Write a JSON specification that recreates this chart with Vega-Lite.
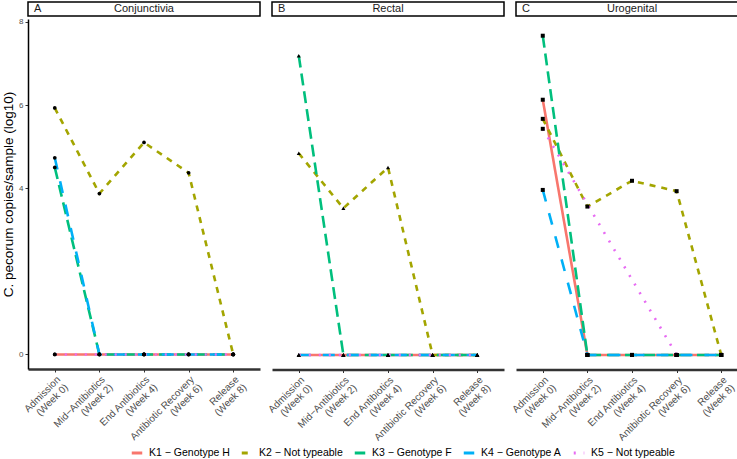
{
  "$schema": "https://vega.github.io/schema/vega-lite/v6.json",
  "background": "white",
  "padding": {"left": 1, "top": 1, "right": 0, "bottom": 0},
  "datasets": {
    "strips": [
      {"panel": "Conjunctivia", "letter": "A"},
      {"panel": "Rectal", "letter": "B"},
      {"panel": "Urogenital", "letter": "C"}
    ],
    "vals": [
      {"panel": "Conjunctivia", "genotype": "K1 − Genotype H", "stage": "Admission\n(Week 0)", "value": 0},
      {"panel": "Conjunctivia", "genotype": "K1 − Genotype H", "stage": "Mid−Antibiotics\n(Week 2)", "value": 0},
      {"panel": "Conjunctivia", "genotype": "K1 − Genotype H", "stage": "End Antibiotics\n(Week 4)", "value": 0},
      {"panel": "Conjunctivia", "genotype": "K1 − Genotype H", "stage": "Antibiotic Recovery\n(Week 6)", "value": 0},
      {"panel": "Conjunctivia", "genotype": "K1 − Genotype H", "stage": "Release\n(Week 8)", "value": 0},
      {"panel": "Conjunctivia", "genotype": "K2 − Not typeable", "stage": "Admission\n(Week 0)", "value": 5.93},
      {"panel": "Conjunctivia", "genotype": "K2 − Not typeable", "stage": "Mid−Antibiotics\n(Week 2)", "value": 3.87},
      {"panel": "Conjunctivia", "genotype": "K2 − Not typeable", "stage": "End Antibiotics\n(Week 4)", "value": 5.1},
      {"panel": "Conjunctivia", "genotype": "K2 − Not typeable", "stage": "Antibiotic Recovery\n(Week 6)", "value": 4.37},
      {"panel": "Conjunctivia", "genotype": "K2 − Not typeable", "stage": "Release\n(Week 8)", "value": 0},
      {"panel": "Conjunctivia", "genotype": "K3 − Genotype F", "stage": "Admission\n(Week 0)", "value": 4.5},
      {"panel": "Conjunctivia", "genotype": "K3 − Genotype F", "stage": "Mid−Antibiotics\n(Week 2)", "value": 0},
      {"panel": "Conjunctivia", "genotype": "K3 − Genotype F", "stage": "End Antibiotics\n(Week 4)", "value": 0},
      {"panel": "Conjunctivia", "genotype": "K3 − Genotype F", "stage": "Antibiotic Recovery\n(Week 6)", "value": 0},
      {"panel": "Conjunctivia", "genotype": "K3 − Genotype F", "stage": "Release\n(Week 8)", "value": 0},
      {"panel": "Conjunctivia", "genotype": "K4 − Genotype A", "stage": "Admission\n(Week 0)", "value": 4.73},
      {"panel": "Conjunctivia", "genotype": "K4 − Genotype A", "stage": "Mid−Antibiotics\n(Week 2)", "value": 0},
      {"panel": "Conjunctivia", "genotype": "K4 − Genotype A", "stage": "End Antibiotics\n(Week 4)", "value": 0},
      {"panel": "Conjunctivia", "genotype": "K4 − Genotype A", "stage": "Antibiotic Recovery\n(Week 6)", "value": 0},
      {"panel": "Conjunctivia", "genotype": "K4 − Genotype A", "stage": "Release\n(Week 8)", "value": 0},
      {"panel": "Conjunctivia", "genotype": "K5 − Not typeable", "stage": "Admission\n(Week 0)", "value": 0},
      {"panel": "Conjunctivia", "genotype": "K5 − Not typeable", "stage": "Mid−Antibiotics\n(Week 2)", "value": 0},
      {"panel": "Conjunctivia", "genotype": "K5 − Not typeable", "stage": "End Antibiotics\n(Week 4)", "value": 0},
      {"panel": "Conjunctivia", "genotype": "K5 − Not typeable", "stage": "Antibiotic Recovery\n(Week 6)", "value": 0},
      {"panel": "Conjunctivia", "genotype": "K5 − Not typeable", "stage": "Release\n(Week 8)", "value": 0},

      {"panel": "Rectal", "genotype": "K1 − Genotype H", "stage": "Admission\n(Week 0)", "value": 0},
      {"panel": "Rectal", "genotype": "K1 − Genotype H", "stage": "Mid−Antibiotics\n(Week 2)", "value": 0},
      {"panel": "Rectal", "genotype": "K1 − Genotype H", "stage": "End Antibiotics\n(Week 4)", "value": 0},
      {"panel": "Rectal", "genotype": "K1 − Genotype H", "stage": "Antibiotic Recovery\n(Week 6)", "value": 0},
      {"panel": "Rectal", "genotype": "K1 − Genotype H", "stage": "Release\n(Week 8)", "value": 0},
      {"panel": "Rectal", "genotype": "K2 − Not typeable", "stage": "Admission\n(Week 0)", "value": 4.85},
      {"panel": "Rectal", "genotype": "K2 − Not typeable", "stage": "Mid−Antibiotics\n(Week 2)", "value": 3.53},
      {"panel": "Rectal", "genotype": "K2 − Not typeable", "stage": "End Antibiotics\n(Week 4)", "value": 4.51},
      {"panel": "Rectal", "genotype": "K2 − Not typeable", "stage": "Antibiotic Recovery\n(Week 6)", "value": 0},
      {"panel": "Rectal", "genotype": "K2 − Not typeable", "stage": "Release\n(Week 8)", "value": 0},
      {"panel": "Rectal", "genotype": "K3 − Genotype F", "stage": "Admission\n(Week 0)", "value": 7.2},
      {"panel": "Rectal", "genotype": "K3 − Genotype F", "stage": "Mid−Antibiotics\n(Week 2)", "value": 0},
      {"panel": "Rectal", "genotype": "K3 − Genotype F", "stage": "End Antibiotics\n(Week 4)", "value": 0},
      {"panel": "Rectal", "genotype": "K3 − Genotype F", "stage": "Antibiotic Recovery\n(Week 6)", "value": 0},
      {"panel": "Rectal", "genotype": "K3 − Genotype F", "stage": "Release\n(Week 8)", "value": 0},
      {"panel": "Rectal", "genotype": "K4 − Genotype A", "stage": "Admission\n(Week 0)", "value": 0},
      {"panel": "Rectal", "genotype": "K4 − Genotype A", "stage": "Mid−Antibiotics\n(Week 2)", "value": 0},
      {"panel": "Rectal", "genotype": "K4 − Genotype A", "stage": "End Antibiotics\n(Week 4)", "value": 0},
      {"panel": "Rectal", "genotype": "K4 − Genotype A", "stage": "Antibiotic Recovery\n(Week 6)", "value": 0},
      {"panel": "Rectal", "genotype": "K4 − Genotype A", "stage": "Release\n(Week 8)", "value": 0},
      {"panel": "Rectal", "genotype": "K5 − Not typeable", "stage": "Admission\n(Week 0)", "value": 0},
      {"panel": "Rectal", "genotype": "K5 − Not typeable", "stage": "Mid−Antibiotics\n(Week 2)", "value": 0},
      {"panel": "Rectal", "genotype": "K5 − Not typeable", "stage": "End Antibiotics\n(Week 4)", "value": 0},
      {"panel": "Rectal", "genotype": "K5 − Not typeable", "stage": "Antibiotic Recovery\n(Week 6)", "value": 0},
      {"panel": "Rectal", "genotype": "K5 − Not typeable", "stage": "Release\n(Week 8)", "value": 0},

      {"panel": "Urogenital", "genotype": "K1 − Genotype H", "stage": "Admission\n(Week 0)", "value": 6.14},
      {"panel": "Urogenital", "genotype": "K1 − Genotype H", "stage": "Mid−Antibiotics\n(Week 2)", "value": 0},
      {"panel": "Urogenital", "genotype": "K1 − Genotype H", "stage": "End Antibiotics\n(Week 4)", "value": 0},
      {"panel": "Urogenital", "genotype": "K1 − Genotype H", "stage": "Antibiotic Recovery\n(Week 6)", "value": 0},
      {"panel": "Urogenital", "genotype": "K1 − Genotype H", "stage": "Release\n(Week 8)", "value": 0},
      {"panel": "Urogenital", "genotype": "K2 − Not typeable", "stage": "Admission\n(Week 0)", "value": 5.68},
      {"panel": "Urogenital", "genotype": "K2 − Not typeable", "stage": "Mid−Antibiotics\n(Week 2)", "value": 3.57},
      {"panel": "Urogenital", "genotype": "K2 − Not typeable", "stage": "End Antibiotics\n(Week 4)", "value": 4.19},
      {"panel": "Urogenital", "genotype": "K2 − Not typeable", "stage": "Antibiotic Recovery\n(Week 6)", "value": 3.94},
      {"panel": "Urogenital", "genotype": "K2 − Not typeable", "stage": "Release\n(Week 8)", "value": 0},
      {"panel": "Urogenital", "genotype": "K3 − Genotype F", "stage": "Admission\n(Week 0)", "value": 7.68},
      {"panel": "Urogenital", "genotype": "K3 − Genotype F", "stage": "Mid−Antibiotics\n(Week 2)", "value": 0},
      {"panel": "Urogenital", "genotype": "K3 − Genotype F", "stage": "End Antibiotics\n(Week 4)", "value": 0},
      {"panel": "Urogenital", "genotype": "K3 − Genotype F", "stage": "Antibiotic Recovery\n(Week 6)", "value": 0},
      {"panel": "Urogenital", "genotype": "K3 − Genotype F", "stage": "Release\n(Week 8)", "value": 0},
      {"panel": "Urogenital", "genotype": "K4 − Genotype A", "stage": "Admission\n(Week 0)", "value": 3.97},
      {"panel": "Urogenital", "genotype": "K4 − Genotype A", "stage": "Mid−Antibiotics\n(Week 2)", "value": 0},
      {"panel": "Urogenital", "genotype": "K4 − Genotype A", "stage": "End Antibiotics\n(Week 4)", "value": 0},
      {"panel": "Urogenital", "genotype": "K4 − Genotype A", "stage": "Antibiotic Recovery\n(Week 6)", "value": 0},
      {"panel": "Urogenital", "genotype": "K4 − Genotype A", "stage": "Release\n(Week 8)", "value": 0},
      {"panel": "Urogenital", "genotype": "K5 − Not typeable", "stage": "Admission\n(Week 0)", "value": 5.44},
      {"panel": "Urogenital", "genotype": "K5 − Not typeable", "stage": "Antibiotic Recovery\n(Week 6)", "value": 0}
    ]
  },
  "hconcat": [
    {
      "spacing": 0,
      "vconcat": [
        {
          "data": {"name": "strips"},
          "transform": [{"filter": "datum.panel === 'Conjunctivia'"}],
          "width": 232, "height": 14,
          "view": {"stroke": "black", "strokeWidth": 1.5},
          "layer": [
            {"mark": {"type": "text", "align": "left", "dx": 6, "fontSize": 11, "color": "#1A1A1A"},
             "encoding": {"x": {"datum": 0, "type": "quantitative", "scale": {"domain": [0, 1]}, "axis": null}, "text": {"field": "letter"}}},
            {"mark": {"type": "text", "align": "center", "fontSize": 11, "color": "#1A1A1A"},
             "encoding": {"x": {"datum": 0.5, "type": "quantitative", "scale": {"domain": [0, 1]}, "axis": null}, "text": {"field": "panel"}}}
          ]
        },
        {
          "data": {"name": "vals"},
          "transform": [{"filter": "datum.panel === 'Conjunctivia'"}],
          "width": 232, "height": 350,
          "encoding": {
            "x": {"field": "stage", "type": "ordinal", "sort": ["Admission\n(Week 0)", "Mid−Antibiotics\n(Week 2)", "End Antibiotics\n(Week 4)", "Antibiotic Recovery\n(Week 6)", "Release\n(Week 8)"], "scale": {"type": "point", "padding": 0.6}, "title": null,
                  "axis": {"labelExpr": "split(datum.label, '\\n')", "labelAngle": -45, "labelAlign": "right", "labelBaseline": "top", "labelFontSize": 10, "labelColor": "#4D4D4D", "labelLineHeight": 11, "domainColor": "#333333", "domainWidth": 2.5, "tickColor": "#333333", "tickSize": 3, "labelPadding": 2}},
            "y": {"field": "value", "type": "quantitative", "scale": {"domain": [-0.35, 8.07], "nice": false, "zero": false}, "title": "C. pecorum copies/sample (log10)",
                  "axis": {"values": [0, 4, 6, 8], "grid": false, "labelFontSize": 8, "labelColor": "#4D4D4D", "domainColor": "black", "domainWidth": 1.5, "tickColor": "#333333", "tickSize": 3, "titleFontSize": 13.5, "titleFontWeight": "normal", "titleColor": "black", "titlePadding": 3, "labelPadding": 2}}
          },
          "layer": [
            {"mark": {"type": "line", "strokeWidth": 2.6},
             "encoding": {
               "color": {"field": "genotype", "type": "nominal", "scale": {"domain": ["K1 − Genotype H", "K2 − Not typeable", "K3 − Genotype F", "K4 − Genotype A", "K5 − Not typeable"], "range": ["#F8766D", "#A3A500", "#00BF7D", "#00B0F6", "#E76BF3"]}},
               "strokeDash": {"field": "genotype", "type": "nominal", "scale": {"domain": ["K1 − Genotype H", "K2 − Not typeable", "K3 − Genotype F", "K4 − Genotype A", "K5 − Not typeable"], "range": [[1, 0], [6, 6], [12, 6], [12, 12], [2, 8]]}}
             }},
            {"mark": {"type": "point", "shape": "circle", "filled": true, "color": "black", "size": 14, "opacity": 1}}
          ]
        }
      ]
    },
    {
      "spacing": 2.5,
      "vconcat": [
        {
          "data": {"name": "strips"},
          "transform": [{"filter": "datum.panel === 'Rectal'"}],
          "width": 232, "height": 14,
          "view": {"stroke": "black", "strokeWidth": 1.5},
          "layer": [
            {"mark": {"type": "text", "align": "left", "dx": 6, "fontSize": 11, "color": "#1A1A1A"},
             "encoding": {"x": {"datum": 0, "type": "quantitative", "scale": {"domain": [0, 1]}, "axis": null}, "text": {"field": "letter"}}},
            {"mark": {"type": "text", "align": "center", "fontSize": 11, "color": "#1A1A1A"},
             "encoding": {"x": {"datum": 0.5, "type": "quantitative", "scale": {"domain": [0, 1]}, "axis": null}, "text": {"field": "panel"}}}
          ]
        },
        {
          "data": {"name": "vals"},
          "transform": [{"filter": "datum.panel === 'Rectal'"}],
          "width": 232, "height": 350,
          "encoding": {
            "x": {"field": "stage", "type": "ordinal", "sort": ["Admission\n(Week 0)", "Mid−Antibiotics\n(Week 2)", "End Antibiotics\n(Week 4)", "Antibiotic Recovery\n(Week 6)", "Release\n(Week 8)"], "scale": {"type": "point", "padding": 0.6}, "title": null,
                  "axis": {"labelExpr": "split(datum.label, '\\n')", "labelAngle": -45, "labelAlign": "right", "labelBaseline": "top", "labelFontSize": 10, "labelColor": "#4D4D4D", "labelLineHeight": 11, "domainColor": "#333333", "domainWidth": 2.5, "tickColor": "#333333", "tickSize": 3, "labelPadding": 2}},
            "y": {"field": "value", "type": "quantitative", "scale": {"domain": [-0.35, 8.07], "nice": false, "zero": false}, "axis": null}
          },
          "layer": [
            {"mark": {"type": "line", "strokeWidth": 2.6},
             "encoding": {
               "color": {"field": "genotype", "type": "nominal", "scale": {"domain": ["K1 − Genotype H", "K2 − Not typeable", "K3 − Genotype F", "K4 − Genotype A", "K5 − Not typeable"], "range": ["#F8766D", "#A3A500", "#00BF7D", "#00B0F6", "#E76BF3"]}},
               "strokeDash": {"field": "genotype", "type": "nominal", "scale": {"domain": ["K1 − Genotype H", "K2 − Not typeable", "K3 − Genotype F", "K4 − Genotype A", "K5 − Not typeable"], "range": [[1, 0], [6, 6], [12, 6], [12, 12], [2, 8]]}}
             }},
            {"mark": {"type": "point", "shape": "triangle-up", "filled": true, "color": "black", "size": 16, "opacity": 1}}
          ]
        }
      ]
    },
    {
      "spacing": 2.5,
      "vconcat": [
        {
          "data": {"name": "strips"},
          "transform": [{"filter": "datum.panel === 'Urogenital'"}],
          "width": 232, "height": 14,
          "view": {"stroke": "black", "strokeWidth": 1.5},
          "layer": [
            {"mark": {"type": "text", "align": "left", "dx": 6, "fontSize": 11, "color": "#1A1A1A"},
             "encoding": {"x": {"datum": 0, "type": "quantitative", "scale": {"domain": [0, 1]}, "axis": null}, "text": {"field": "letter"}}},
            {"mark": {"type": "text", "align": "center", "fontSize": 11, "color": "#1A1A1A"},
             "encoding": {"x": {"datum": 0.5, "type": "quantitative", "scale": {"domain": [0, 1]}, "axis": null}, "text": {"field": "panel"}}}
          ]
        },
        {
          "data": {"name": "vals"},
          "transform": [{"filter": "datum.panel === 'Urogenital'"}],
          "width": 232, "height": 350,
          "encoding": {
            "x": {"field": "stage", "type": "ordinal", "sort": ["Admission\n(Week 0)", "Mid−Antibiotics\n(Week 2)", "End Antibiotics\n(Week 4)", "Antibiotic Recovery\n(Week 6)", "Release\n(Week 8)"], "scale": {"type": "point", "padding": 0.6}, "title": null,
                  "axis": {"labelExpr": "split(datum.label, '\\n')", "labelAngle": -45, "labelAlign": "right", "labelBaseline": "top", "labelFontSize": 10, "labelColor": "#4D4D4D", "labelLineHeight": 11, "domainColor": "#333333", "domainWidth": 2.5, "tickColor": "#333333", "tickSize": 3, "labelPadding": 2}},
            "y": {"field": "value", "type": "quantitative", "scale": {"domain": [-0.35, 8.07], "nice": false, "zero": false}, "axis": null}
          },
          "layer": [
            {"mark": {"type": "line", "strokeWidth": 2.6},
             "encoding": {
               "color": {"field": "genotype", "type": "nominal", "scale": {"domain": ["K1 − Genotype H", "K2 − Not typeable", "K3 − Genotype F", "K4 − Genotype A", "K5 − Not typeable"], "range": ["#F8766D", "#A3A500", "#00BF7D", "#00B0F6", "#E76BF3"]}},
               "strokeDash": {"field": "genotype", "type": "nominal", "scale": {"domain": ["K1 − Genotype H", "K2 − Not typeable", "K3 − Genotype F", "K4 − Genotype A", "K5 − Not typeable"], "range": [[1, 0], [6, 6], [12, 6], [12, 12], [2, 8]]}}
             }},
            {"mark": {"type": "point", "shape": "square", "filled": true, "color": "black", "size": 16, "opacity": 1}}
          ]
        }
      ]
    }
  ],
  "spacing": 5,
  "resolve": {"scale": {"color": "shared", "strokeDash": "shared"}},
  "config": {
    "font": "Liberation Sans",
    "view": {"stroke": null},
    "legend": {
      "orient": "none",
      "legendX": 102,
      "legendY": 444,
      "direction": "horizontal",
      "title": null,
      "symbolType": "stroke",
      "symbolStrokeWidth": 3,
      "symbolSize": 110,
      "labelFontSize": 10.5,
      "labelColor": "black",
      "labelOffset": 5,
      "columnPadding": 5,
      "titlePadding": 0
    }
  }
}
